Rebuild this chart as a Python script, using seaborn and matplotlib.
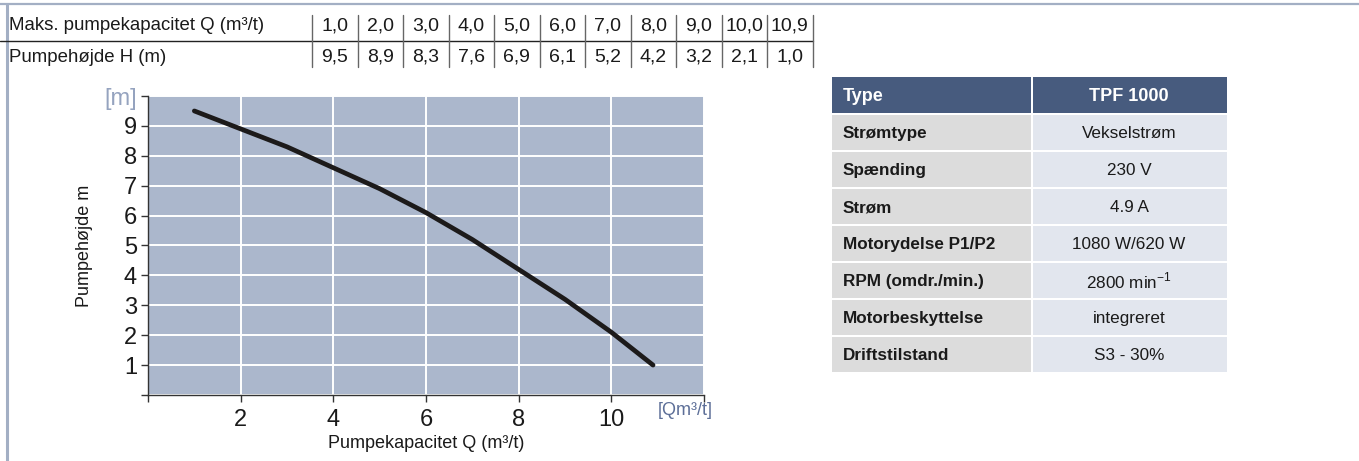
import matplotlib
matplotlib.use("Agg")
import matplotlib.pyplot as plt
import seaborn as sns
import pandas as pd
from matplotlib.patches import Rectangle

# pump curve
capacity_q = [1.0, 2.0, 3.0, 4.0, 5.0, 6.0, 7.0, 8.0, 9.0, 10.0, 10.9]
head_h = [9.5, 8.9, 8.3, 7.6, 6.9, 6.1, 5.2, 4.2, 3.2, 2.1, 1.0]

row_labels = ["Maks. pumpekapacitet Q (m³/t)", "Pumpehøjde H (m)"]

spec_keys = ["Strømtype", "Spænding", "Strøm", "Motorydelse P1/P2",
             "RPM (omdr./min.)", "Motorbeskyttelse", "Driftstilstand"]
spec_vals = ["Vekselstrøm", "230 V", "4.9 A", "1080 W/620 W",
             "2800 min$^{-1}$", "integreret", "S3 - 30%"]
header = ["Type", "TPF 1000"]

x_ticks = [0, 2, 4, 6, 8, 10, 12]
x_labels = ["", "2", "4", "6", "8", "10", ""]
y_ticks = list(range(0, 11))
y_labels = [""] + [str(v) for v in range(1, 10)] + ["[m]"]

sns.set_theme(style="white")
plt.rcParams["font.family"] = ["Liberation Sans", "DejaVu Sans"]
plt.rcParams["mathtext.fontset"] = "custom"
plt.rcParams["mathtext.rm"] = "Liberation Sans"

W, H = 1359, 461
fig = plt.figure(figsize=(W / 100, H / 100), dpi=100)
fig.patch.set_facecolor("white")

# overlay in pixel coords for the tables and frame lines
bg = fig.add_axes([0, 0, 1, 1], zorder=0)
bg.set_xlim(0, W)
bg.set_ylim(H, 0)
bg.axis("off")

frame_col = "#a3afc4"
bg.plot([0, W], [4, 4], color=frame_col, lw=1.6)
bg.plot([7, 7], [4, H], color=frame_col, lw=2.2)

# top value table
sep0, step = 312, 45.5
txt = "#1a1a1a"
bg.plot([0, sep0 + step * len(capacity_q)], [41, 41], color="#222222", lw=1.0)
for i in range(len(capacity_q) + 1):
    bg.plot([sep0 + step * i] * 2, [15, 67], color="#666666", lw=1.0)
row_y = [26, 57]
for r, lab in enumerate(row_labels):
    bg.text(9, row_y[r], lab, fontsize=13.4, color=txt, va="center", ha="left")
for i, (q, h) in enumerate(zip(capacity_q, head_h)):
    cx = sep0 + step * i + step / 2
    bg.text(cx, row_y[0], f"{q:.1f}".replace(".", ","), fontsize=14,
            color=txt, va="center", ha="center")
    bg.text(cx, row_y[1], f"{h:.1f}".replace(".", ","), fontsize=14,
            color=txt, va="center", ha="center")

# spec table
tx0, tx1, tx2 = 832, 1031, 1227
ty0, hdr_h, row_h = 77, 36, 37
bg.add_patch(Rectangle((tx0, ty0), tx1 - tx0, hdr_h, color="#475b7e", lw=0))
bg.add_patch(Rectangle((tx1 + 2, ty0), tx2 - tx1 - 2, hdr_h, color="#475b7e", lw=0))
bg.text(tx0 + 11, ty0 + hdr_h / 2 + 1, header[0], fontsize=13, color="white",
        fontweight="bold", va="center")
bg.text((tx1 + tx2) / 2, ty0 + hdr_h / 2 + 1, header[1], fontsize=13, color="white",
        fontweight="bold", va="center", ha="center")
for i, (k, v) in enumerate(zip(spec_keys, spec_vals)):
    y = ty0 + hdr_h + 2 + row_h * i
    bg.add_patch(Rectangle((tx0, y), tx1 - tx0, row_h - 2.5, color="#dcdcdc", lw=0))
    bg.add_patch(Rectangle((tx1 + 2, y), tx2 - tx1 - 2, row_h - 2.5, color="#e2e6ee", lw=0))
    bg.text(tx0 + 11, y + row_h / 2, k, fontsize=12.3, color=txt,
            fontweight="bold", va="center")
    bg.text((tx1 + tx2) / 2, y + row_h / 2, v, fontsize=12.3, color=txt,
            va="center", ha="center")

# pump curve
ax = fig.add_axes([148 / W, 1 - 395 / H, 556 / W, 299 / H], zorder=2)
ax.set_facecolor("#abb7cc")
df = pd.DataFrame({"Q": capacity_q, "H": head_h})
sns.lineplot(data=df, x="Q", y="H", ax=ax, color="#1c1a1a", lw=3.4, zorder=3)
ax.set_xlim(0, 12)
ax.set_ylim(0, 10)
ax.set_xticks(x_ticks)
ax.set_xticklabels(x_labels)
ax.set_yticks(y_ticks)
ax.set_yticklabels(y_labels)
ax.tick_params(axis="both", direction="out", length=5, width=1, color="#333333",
               labelsize=17, labelcolor=txt, pad=3, left=True, bottom=True)
ax.tick_params(axis="x", pad=5)
ax.get_yticklabels()[-1].set_color("#95a3bf")
ax.grid(True, color="white", lw=1.4)
for s in ["top", "right"]:
    ax.spines[s].set_visible(False)
for s in ["left", "bottom"]:
    ax.spines[s].set_color("#333333")
    ax.spines[s].set_linewidth(1.0)
ax.set_xlabel("Pumpekapacitet Q (m³/t)", fontsize=13, color=txt, labelpad=3)
ax.set_ylabel("Pumpehøjde m", fontsize=13, color=txt, labelpad=8)
ax.text(11.6, -0.25, "[Qm³/t]", fontsize=13, color="#5d6f98", ha="center", va="top")

plt.savefig("out.png", dpi=100)
